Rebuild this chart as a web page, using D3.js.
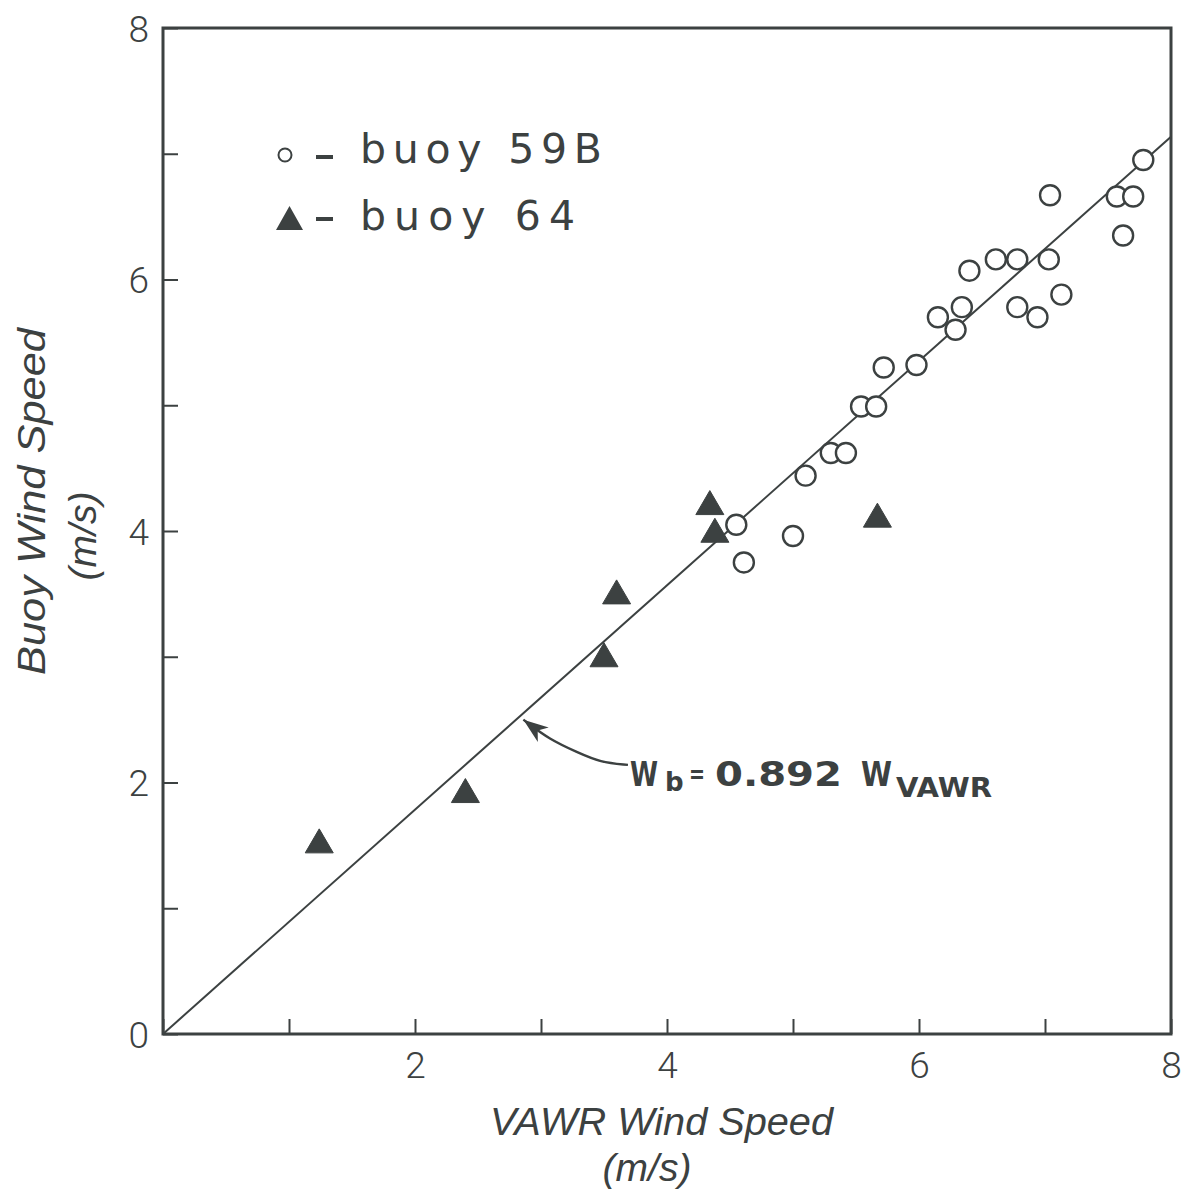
<!DOCTYPE html>
<html>
<head>
<meta charset="utf-8">
<script src="https://cdn.jsdelivr.net/npm/d3@7/dist/d3.min.js"></script>
<style>
  html, body { margin: 0; padding: 0; background: #ffffff; }
  svg { display: block; }
</style>
</head>
<body>
<svg id="chart" width="1187" height="1203"></svg>
<script>
// ---- data ----
const buoy59B_x = [7.78, 7.04, 7.57, 7.70, 7.62, 6.61, 6.78, 7.03, 6.40, 7.13, 6.78, 6.94, 6.34, 6.15, 6.29, 5.72, 5.98, 5.54, 5.66, 5.30, 5.42, 5.10, 4.55, 5.00, 4.61];
const buoy59B_y = [6.95, 6.67, 6.66, 6.66, 6.35, 6.16, 6.16, 6.16, 6.07, 5.88, 5.78, 5.70, 5.78, 5.70, 5.60, 5.30, 5.32, 4.99, 4.99, 4.62, 4.62, 4.44, 4.05, 3.96, 3.75];
const buoy64_x = [4.34, 4.38, 5.67, 3.60, 3.50, 2.40, 1.24];
const buoy64_y = [4.21, 3.99, 4.11, 3.50, 3.00, 1.92, 1.52];
const slope = 0.892;
const xTicks = [0, 1, 2, 3, 4, 5, 6, 7, 8];
const yTicks = [0, 1, 2, 3, 4, 5, 6, 7, 8];
const xTickLabels = ["", "", "2", "", "4", "", "6", "", "8"];
const yTickLabels = ["0", "", "2", "", "4", "", "6", "", "8"];
const legendLabels = ["buoy 59B", "buoy 64"];
const xTitle = ["VAWR Wind Speed", "(m/s)"];
const yTitle = ["Buoy Wind Speed", "(m/s)"];
// annotation arrow path, in data units (curved leader from the label to the fit line)
const arrowPath = [[3.69, 2.14], [3.47, 2.16], [3.29, 2.24], [3.07, 2.34], [2.86, 2.50]];

// ---- layout ----
const INK = "#3c4141";
const svg = d3.select("#chart");
const x = d3.scaleLinear().domain([0, 8]).range([163, 1171]);
const y = d3.scaleLinear().domain([0, 8]).range([1034, 28]);
const tickFont = "'Roboto', 'Liberation Sans', sans-serif";
const titleFont = "'Liberation Sans', 'DejaVu Sans', sans-serif";
const labelFont = "'DejaVu Sans', 'Liberation Sans', sans-serif";
const annFont = "'DejaVu Sans', 'Liberation Sans', sans-serif";

// frame
svg.append("rect")
  .attr("x", x(0)).attr("y", y(8))
  .attr("width", x(8) - x(0)).attr("height", y(0) - y(8))
  .attr("fill", "none").attr("stroke", INK).attr("stroke-width", 3);

// axes with inward ticks
const gx = svg.append("g").attr("transform", `translate(0,${y(0)})`)
  .call(d3.axisBottom(x).tickValues(xTicks).tickSize(-15).tickFormat((d, i) => xTickLabels[i]));
gx.select(".domain").remove();
gx.selectAll(".tick line").attr("stroke", INK).attr("stroke-width", 2);
gx.selectAll(".tick text")
  .attr("y", 44).attr("dy", 0)
  .attr("fill", INK).attr("font-family", tickFont).attr("font-weight", 300)
  .attr("font-size", 37);

const gy = svg.append("g").attr("transform", `translate(${x(0)},0)`)
  .call(d3.axisLeft(y).tickValues(yTicks).tickSize(-15).tickFormat((d, i) => yTickLabels[i]));
gy.select(".domain").remove();
gy.selectAll(".tick line").attr("stroke", INK).attr("stroke-width", 2);
gy.selectAll(".tick text")
  .attr("x", -14).attr("dy", "0.36em")
  .attr("fill", INK).attr("font-family", tickFont).attr("font-weight", 300)
  .attr("font-size", 37);

// regression line
svg.append("line")
  .attr("x1", x(0)).attr("y1", y(0))
  .attr("x2", x(8)).attr("y2", y(slope * 8))
  .attr("stroke", INK).attr("stroke-width", 2);

// circles
svg.append("g").selectAll("circle")
  .data(buoy59B_x.map((v, i) => [v, buoy59B_y[i]]))
  .join("circle")
  .attr("cx", d => x(d[0])).attr("cy", d => y(d[1]))
  .attr("r", 10)
  .attr("fill", "#ffffff").attr("stroke", INK).attr("stroke-width", 2.4);

// triangles
const tri = (cx, cy, w, h) => `M${cx - w / 2},${cy + h / 3}L${cx + w / 2},${cy + h / 3}L${cx},${cy - 2 * h / 3}Z`;
svg.append("g").selectAll("path")
  .data(buoy64_x.map((v, i) => [v, buoy64_y[i]]))
  .join("path")
  .attr("d", d => tri(x(d[0]), y(d[1]) + 2, 28, 24))
  .attr("fill", INK).attr("stroke", INK).attr("stroke-width", 1);

// legend
svg.append("circle").attr("cx", 285).attr("cy", 155).attr("r", 6.5)
  .attr("fill", "none").attr("stroke", INK).attr("stroke-width", 2);
svg.append("path").attr("d", tri(289.5, 222, 27, 24)).attr("fill", INK);
[157, 219].forEach(yy => {
  svg.append("line").attr("x1", 316).attr("x2", 333).attr("y1", yy).attr("y2", yy)
    .attr("stroke", INK).attr("stroke-width", 4);
});
svg.append("text").attr("x", 360).attr("y", 163)
  .attr("font-family", labelFont).attr("font-size", 41).attr("fill", INK)
  .attr("textLength", 242).attr("lengthAdjust", "spacing")
  .text(legendLabels[0]);
svg.append("text").attr("x", 360).attr("y", 230)
  .attr("font-family", labelFont).attr("font-size", 41).attr("fill", INK)
  .attr("textLength", 215).attr("lengthAdjust", "spacing")
  .text(legendLabels[1]);

// annotation arrow
const arrowLine = d3.line().x(d => x(d[0])).y(d => y(d[1])).curve(d3.curveBasis);
svg.append("path").attr("d", arrowLine(arrowPath))
  .attr("fill", "none").attr("stroke", INK).attr("stroke-width", 2.4);
{
  const tip = arrowPath[arrowPath.length - 1], prev = arrowPath[arrowPath.length - 2];
  const tx = x(tip[0]), ty = y(tip[1]);
  const ang = Math.atan2(y(prev[1]) - ty, x(prev[0]) - tx);
  const L = 25, W = 9;
  const bx = tx + L * Math.cos(ang), by = ty + L * Math.sin(ang);
  const px = -Math.sin(ang) * W, py = Math.cos(ang) * W;
  const nx = tx + 0.72 * L * Math.cos(ang), ny = ty + 0.72 * L * Math.sin(ang);
  svg.append("path")
    .attr("d", `M${tx},${ty}L${bx + px},${by + py}L${nx},${ny}L${bx - px},${by - py}Z`)
    .attr("fill", INK);
}

// annotation text
const ann = svg.append("g").attr("fill", INK).attr("font-family", annFont).attr("font-weight", "bold");
ann.append("text").attr("x", 630).attr("y", 786).attr("font-size", 33)
  .attr("textLength", 28).attr("lengthAdjust", "spacingAndGlyphs").text("W");
ann.append("text").attr("x", 665).attr("y", 791).attr("font-size", 26).text("b");
ann.append("text").attr("x", 689).attr("y", 783).attr("font-size", 26)
  .attr("textLength", 16).attr("lengthAdjust", "spacingAndGlyphs").text("=");
ann.append("text").attr("x", 715).attr("y", 786).attr("font-size", 33)
  .attr("textLength", 127).attr("lengthAdjust", "spacingAndGlyphs").text("0.892");
ann.append("text").attr("x", 861).attr("y", 786).attr("font-size", 33)
  .attr("textLength", 31).attr("lengthAdjust", "spacingAndGlyphs").text("W");
ann.append("text").attr("x", 896).attr("y", 797).attr("font-size", 26)
  .attr("textLength", 96).attr("lengthAdjust", "spacingAndGlyphs").text("VAWR");

// axis titles
svg.append("text").attr("x", 490).attr("y", 1135)
  .attr("font-family", titleFont).attr("font-style", "italic").attr("font-size", 39).attr("fill", INK)
  .attr("textLength", 343).attr("lengthAdjust", "spacingAndGlyphs")
  .text(xTitle[0]);
svg.append("text").attr("x", 647).attr("y", 1181).attr("text-anchor", "middle")
  .attr("font-family", titleFont).attr("font-style", "italic").attr("font-size", 39).attr("fill", INK)
  .text(xTitle[1]);
svg.append("text").attr("transform", "translate(45,675) rotate(-90)")
  .attr("font-family", titleFont).attr("font-style", "italic").attr("font-size", 39).attr("fill", INK)
  .attr("textLength", 347).attr("lengthAdjust", "spacingAndGlyphs")
  .text(yTitle[0]);
svg.append("text").attr("transform", "translate(96,536) rotate(-90)").attr("text-anchor", "middle")
  .attr("font-family", titleFont).attr("font-style", "italic").attr("font-size", 39).attr("fill", INK)
  .text(yTitle[1]);
</script>
</body>
</html>
